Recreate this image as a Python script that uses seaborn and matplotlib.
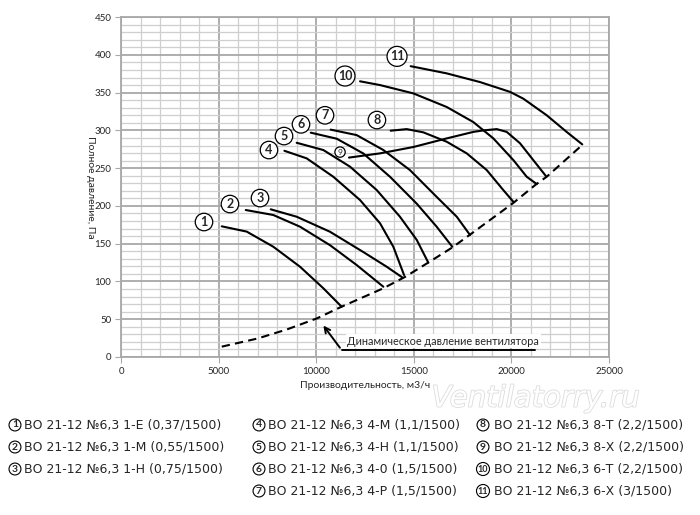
import matplotlib
matplotlib.use("Agg")
import matplotlib.pyplot as plt
import matplotlib.patheffects as pe
import numpy as np
import pandas as pd
import seaborn as sns
from matplotlib.ticker import MultipleLocator

# fan curves: flow (m3/h) vs total pressure (Pa)
c1_x = [5160, 6440, 7800, 9170, 10365, 11300]
c1_y = [173, 166, 146, 119.5, 91, 66.6]
c2_x = [6390, 7800, 9170, 10707, 12070, 13440]
c2_y = [194.6, 188, 172.5, 148, 121.8, 93]
c3_x = [7670, 9000, 10707, 12410, 13610, 14430]
c3_y = [195.5, 185.7, 165.8, 139, 119.5, 105]
c4_x = [8370, 9510, 10877, 12244, 13270, 13950, 14500]
c4_y = [273, 263, 238.6, 207.8, 177, 146, 108.5]
c5_x = [9000, 10365, 11730, 13100, 14290, 15150, 15740]
c5_y = [283.6, 274, 252, 221, 185.7, 155, 125]
c6_x = [9720, 11050, 12410, 13780, 15150, 16170, 16970]
c6_y = [297, 289, 269.5, 238.6, 203, 172.5, 146]
c7_x = [10740, 12070, 13440, 14800, 16170, 17200, 17880]
c7_y = [301, 293.8, 274, 247.5, 212, 185.7, 161.5]
c8_x = [13815, 14635, 15490, 16685, 17710, 18735, 19585, 20100]
c8_y = [299.6, 301.7, 297.4, 285, 269.6, 247.5, 221, 205.5]
c9_x = [11680, 13270, 14975, 16685, 18050, 18560, 19250, 19760, 20440, 21120, 21770]
c9_y = [264, 269.6, 278, 289.4, 298, 300, 301.7, 298, 283, 260.7, 239.5]
c10_x = [12244, 13270, 14975, 16685, 18050, 19075, 20100, 20785, 21295]
c10_y = [365, 360, 349, 331, 311, 289.4, 260.7, 238.6, 229]
c11_x = [14840, 16685, 18390, 19930, 20610, 21810, 22830, 23630]
c11_y = [385, 375.5, 364, 351, 342, 320, 298, 281.5]

curves_x = [c1_x, c2_x, c3_x, c4_x, c5_x, c6_x, c7_x, c8_x, c9_x, c10_x, c11_x]
curves_y = [c1_y, c2_y, c3_y, c4_y, c5_y, c6_y, c7_y, c8_y, c9_y, c10_y, c11_y]

# dynamic pressure line
dyn_x = [5160, 7000, 8500, 10025, 11300, 13440, 14550, 15740, 16970, 17880, 20100, 21260, 21810, 23685]
dyn_y = [13.7, 24.5, 36.5, 51, 66.6, 91, 106, 125, 145, 162, 204, 228.5, 238.7, 282]

# circled labels on the chart
lab_num = ["1", "2", "3", "4", "5", "6", "7", "8", "9", "10", "11"]
lab_x = [4250, 5580, 7120, 7580, 8350, 9220, 10450, 13110, 11220, 11475, 14140]
lab_y = [178.7, 202.5, 210.4, 274, 292.5, 308, 320, 313.7, 271.3, 372, 398]

legend_text = [
    "ВО 21-12 №6,3 1-Е (0,37/1500)",
    "ВО 21-12 №6,3 1-М (0,55/1500)",
    "ВО 21-12 №6,3 1-Н (0,75/1500)",
    "ВО 21-12 №6,3 4-М (1,1/1500)",
    "ВО 21-12 №6,3 4-Н (1,1/1500)",
    "ВО 21-12 №6,3 4-0 (1,5/1500)",
    "ВО 21-12 №6,3 4-Р (1,5/1500)",
    "ВО 21-12 №6,3 8-Т (2,2/1500)",
    "ВО 21-12 №6,3 8-Х (2,2/1500)",
    "ВО 21-12 №6,3 6-Т (2,2/1500)",
    "ВО 21-12 №6,3 6-Х (3/1500)",
]

sns.set_style("white")
plt.rcParams['font.family'] = ['Lato', 'DejaVu Sans']

fig = plt.figure(figsize=(7, 5.15), dpi=100)
ax = fig.add_axes([0.1729, 0.3068, 0.6971, 0.66])

for cx, cy in zip(curves_x, curves_y):
    df = pd.DataFrame({"q": cx, "p": cy})
    sns.lineplot(data=df, x="q", y="p", color="black", linewidth=1.5, ax=ax, sort=False)

dyn = pd.DataFrame({"q": dyn_x, "p": dyn_y})
sns.lineplot(data=dyn, x="q", y="p", color="black", linewidth=1.5, ax=ax,
             linestyle=(0, (4, 2.5)))

ax.set_xlim(0, 25000)
ax.set_ylim(0, 450)
ax.xaxis.set_major_locator(MultipleLocator(5000))
ax.xaxis.set_minor_locator(MultipleLocator(1000))
ax.yaxis.set_major_locator(MultipleLocator(50))
ax.yaxis.set_minor_locator(MultipleLocator(10))
ax.grid(which="minor", color="#cfcfcf", linewidth=0.9)
ax.grid(which="major", color="#a8a8a8", linewidth=1.3)
ax.set_axisbelow(True)
for s in ax.spines.values():
    s.set_color("#a8a8a8")
    s.set_linewidth(1.3)
ax.tick_params(which="major", length=4, color="#a8a8a8", labelsize=7, pad=3,
               left=True, bottom=True)
ax.tick_params(which="minor", length=0)

ax.set_xlabel("Производительность, м3/ч", fontsize=7.5, labelpad=4)
ax.set_ylabel("Полное давление, Па", fontsize=7.5, rotation=270, ha="center", va="center")
ax.yaxis.set_label_coords(-0.063, 0.5)

for n, lx, ly in zip(lab_num, lab_x, lab_y):
    small = n == "9"
    ax.text(lx, ly, n, ha="center", va="center", fontsize=6 if small else 9,
            fontweight="normal" if small else "bold",
            bbox=dict(boxstyle="circle,pad=0.2" if small else "circle,pad=0.22",
                      fc="white", ec="black", lw=0.9))

# annotation for the dynamic pressure
ax.plot([11300, 21200], [9.3, 9.3], color="black", lw=1.4)
ax.annotate("", xy=(10280, 44.6), xytext=(11300, 9.3),
            arrowprops=dict(arrowstyle="->", color="black", lw=1.4))
ax.text(16500, 21, "Динамическое давление вентилятора", ha="center", va="center",
        fontsize=7.8, bbox=dict(boxstyle="square,pad=0.15", fc="white", ec="none"))

# watermark
fig.text(0.765, 0.226, "Ventilatorry.ru", ha="center", va="center", fontsize=21,
         style="italic", color="white", zorder=0, family=["DejaVu Sans"],
         path_effects=[pe.withStroke(linewidth=1.2, foreground="#dcdcdc")])

# legend at the bottom
circ_x = [0.0214, 0.37, 0.69]
text_x = [0.0343, 0.383, 0.706]
row_y = [0.1748, 0.132, 0.0893, 0.0466]
cols = [[0, 1, 2], [3, 4, 5, 6], [7, 8, 9, 10]]
for cxp, txp, idxs in zip(circ_x, text_x, cols):
    for r, i in enumerate(idxs):
        fig.text(cxp, row_y[r], lab_num[i], ha="center", va="center",
                 fontsize=7.5 if len(lab_num[i]) == 1 else 6.5, fontweight="bold",
                 bbox=dict(boxstyle="circle,pad=0.14", fc="white", ec="black", lw=0.8))
        fig.text(txp, row_y[r], legend_text[i], ha="left", va="center",
                 fontsize=9.0, family=["DejaVu Sans"])

fig.savefig("out.png", dpi=100)
